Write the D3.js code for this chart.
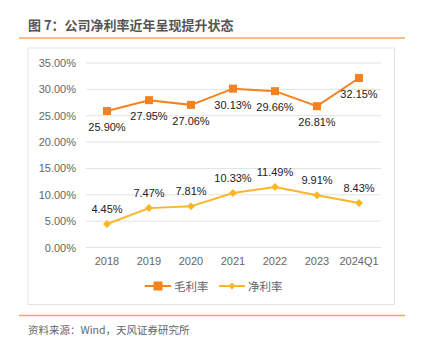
<!DOCTYPE html>
<html>
<head>
<meta charset="UTF-8">
<script src="https://d3js.org/d3.v7.min.js"></script>
<style>
  body { margin: 0; background: #fff; }
  svg text { font-family: "Liberation Sans", Arial, "Noto Sans CJK SC", sans-serif; }
  .cjk { font-family: "Noto Sans CJK SC", sans-serif; }
</style>
</head>
<body>
<svg id="chart" width="423" height="349"></svg>
<script>
// chart data
const years = ["2018", "2019", "2020", "2021", "2022", "2023", "2024Q1"];
const grossMargin = [25.90, 27.95, 27.06, 30.13, 29.66, 26.81, 32.15];
const netMargin = [4.45, 7.47, 7.81, 10.33, 11.49, 9.91, 8.43];
const yTicks = [0, 5, 10, 15, 20, 25, 30, 35];
const seriesNames = ["毛利率", "净利率"];

const grossColor = "#f5821f";
const netColor = "#fbb52b";
const lineOrange = "#f7a65c";

const svg = d3.select("#chart");

// title + orange rules
svg.append("text").attr("class", "cjk")
  .attr("x", 28).attr("y", 30)
  .attr("font-size", 13).attr("font-weight", "bold").attr("fill", "#555")
  .text("图 7：公司净利率近年呈现提升状态");
svg.append("line").attr("x1", 19).attr("x2", 405).attr("y1", 38).attr("y2", 38)
  .attr("stroke", lineOrange).attr("stroke-width", 1.5);
svg.append("line").attr("x1", 19).attr("x2", 405).attr("y1", 315.5).attr("y2", 315.5)
  .attr("stroke", lineOrange).attr("stroke-width", 1.5);
svg.append("text").attr("class", "cjk")
  .attr("x", 28).attr("y", 334)
  .attr("font-size", 10.5).attr("fill", "#666")
  .text("资料来源：Wind，天风证券研究所");

// frame
svg.append("rect").attr("x", 28).attr("y", 48).attr("width", 366.5).attr("height", 256.5)
  .attr("fill", "none").attr("stroke", "#e3e3e3").attr("stroke-width", 1);

const x = d3.scalePoint().domain(years).range([107, 359]);
const y = d3.scaleLinear().domain([0, 35]).range([247.5, 63]);

// gridlines
svg.append("g").selectAll("line").data(yTicks).join("line")
  .attr("x1", 86).attr("x2", 381)
  .attr("y1", d => y(d)).attr("y2", d => y(d))
  .attr("stroke", "#e2e2e2").attr("stroke-width", 1);

// y axis labels
svg.append("g").selectAll("text").data(yTicks).join("text")
  .attr("x", 76).attr("y", d => y(d) + 4)
  .attr("text-anchor", "end").attr("font-size", 11).attr("fill", "#666")
  .text(d => d.toFixed(2) + "%");

// x axis labels
svg.append("g").selectAll("text").data(years).join("text")
  .attr("x", d => x(d)).attr("y", 265)
  .attr("text-anchor", "middle").attr("font-size", 11).attr("fill", "#666")
  .text(d => d);

const line = d3.line().x((d, i) => x(years[i])).y(d => y(d));
// small rotated-square marker
const diamond = r => `M0,${-r}L${r},0L0,${r}L${-r},0Z`;

// gross margin series
svg.append("path").datum(grossMargin).attr("d", line)
  .attr("fill", "none").attr("stroke", grossColor).attr("stroke-width", 2);
svg.append("g").selectAll("rect").data(grossMargin).join("rect")
  .attr("x", (d, i) => x(years[i]) - 4).attr("y", d => y(d) - 4)
  .attr("width", 8).attr("height", 8).attr("fill", grossColor);
svg.append("g").selectAll("text").data(grossMargin).join("text")
  .attr("x", (d, i) => x(years[i])).attr("y", d => y(d) + 20)
  .attr("text-anchor", "middle").attr("font-size", 11).attr("fill", "#222")
  .text(d => d.toFixed(2) + "%");

// net margin series
svg.append("path").datum(netMargin).attr("d", line)
  .attr("fill", "none").attr("stroke", netColor).attr("stroke-width", 2);
svg.append("g").selectAll("path").data(netMargin).join("path")
  .attr("d", diamond(4))
  .attr("transform", (d, i) => `translate(${x(years[i])},${y(d)})`)
  .attr("fill", netColor);
svg.append("g").selectAll("text").data(netMargin).join("text")
  .attr("x", (d, i) => x(years[i])).attr("y", d => y(d) - 11)
  .attr("text-anchor", "middle").attr("font-size", 11).attr("fill", "#222")
  .text(d => d.toFixed(2) + "%");

// legend
const legend = svg.append("g");
const legX = [145, 219];
seriesNames.forEach((name, i) => {
  const c = i === 0 ? grossColor : netColor;
  const g = legend.append("g").attr("transform", `translate(${legX[i]},286)`);
  g.append("line").attr("x1", 0).attr("x2", 26).attr("y1", 0).attr("y2", 0)
    .attr("stroke", c).attr("stroke-width", 2);
  if (i === 0) {
    g.append("rect").attr("x", 8.5).attr("y", -4.5).attr("width", 9).attr("height", 9).attr("fill", c);
  } else {
    g.append("path").attr("d", diamond(3.5)).attr("transform", "translate(13,0)").attr("fill", c);
  }
  g.append("text").attr("class", "cjk").attr("x", 29).attr("y", 4.5)
    .attr("font-size", 11.5).attr("fill", "#666").text(name);
});
</script>
</body>
</html>
